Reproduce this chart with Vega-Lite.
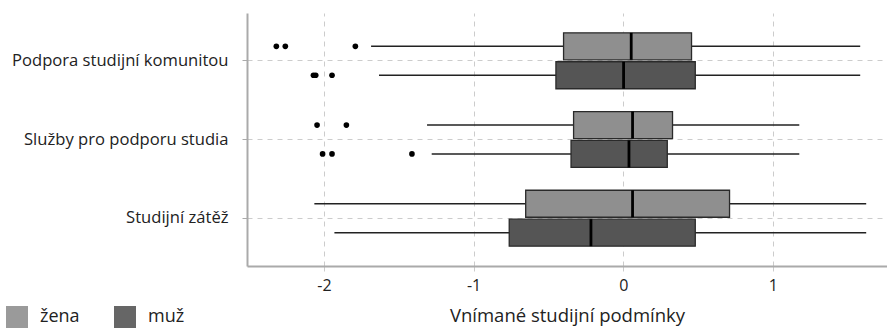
{
  "$schema": "https://vega.github.io/schema/vega-lite/v6.json",
  "width": 640,
  "height": 253,
  "autosize": "none",
  "padding": {"left": 247, "top": 13, "right": 0, "bottom": 62},
  "background": "white",
  "config": {
    "font": "Open Sans",
    "view": {"stroke": null},
    "axis": {"labelColor": "#222", "titleColor": "#222", "titleFontWeight": "normal"}
  },
  "datasets": {
    "boxes": [
      {"cat": "Podpora studijní komunitou", "sex": "žena", "lo": -1.685, "q1": -0.399, "med": 0.053, "q3": 0.456, "hi": 1.583},
      {"cat": "Podpora studijní komunitou", "sex": "muž", "lo": -1.632, "q1": -0.45, "med": 0.002, "q3": 0.481, "hi": 1.583},
      {"cat": "Služby pro podporu studia", "sex": "žena", "lo": -1.311, "q1": -0.332, "med": 0.062, "q3": 0.329, "hi": 1.176},
      {"cat": "Služby pro podporu studia", "sex": "muž", "lo": -1.28, "q1": -0.349, "med": 0.038, "q3": 0.294, "hi": 1.176},
      {"cat": "Studijní zátěž", "sex": "žena", "lo": -2.064, "q1": -0.652, "med": 0.062, "q3": 0.71, "hi": 1.623},
      {"cat": "Studijní zátěž", "sex": "muž", "lo": -1.93, "q1": -0.762, "med": -0.216, "q3": 0.481, "hi": 1.623}
    ],
    "outliers": [
      {"cat": "Podpora studijní komunitou", "sex": "žena", "value": -2.318},
      {"cat": "Podpora studijní komunitou", "sex": "žena", "value": -2.258},
      {"cat": "Podpora studijní komunitou", "sex": "žena", "value": -1.79},
      {"cat": "Podpora studijní komunitou", "sex": "muž", "value": -2.07},
      {"cat": "Podpora studijní komunitou", "sex": "muž", "value": -2.055},
      {"cat": "Podpora studijní komunitou", "sex": "muž", "value": -1.946},
      {"cat": "Služby pro podporu studia", "sex": "žena", "value": -2.046},
      {"cat": "Služby pro podporu studia", "sex": "žena", "value": -1.85},
      {"cat": "Služby pro podporu studia", "sex": "muž", "value": -2.009},
      {"cat": "Služby pro podporu studia", "sex": "muž", "value": -1.946},
      {"cat": "Služby pro podporu studia", "sex": "muž", "value": -1.412}
    ]
  },
  "encoding": {
    "y": {
      "field": "cat", "type": "nominal",
      "scale": {"type": "band", "domain": ["Podpora studijní komunitou", "Služby pro podporu studia", "Studijní zátěž"], "paddingInner": 0.266, "paddingOuter": 0.24},
      "axis": {"title": null, "grid": true, "bandPosition": 0.5, "gridDash": [5, 5], "gridColor": "#cccccc", "gridWidth": 1, "domainColor": "#aaaaaa", "domainWidth": 2, "tickColor": "#aaaaaa", "tickSize": 5, "labelFontSize": 16.6, "labelPadding": 14, "labelLimit": 0}
    },
    "yOffset": {
      "field": "sex", "type": "nominal",
      "scale": {"domain": ["žena", "muž"], "paddingInner": 0, "paddingOuter": 0}
    }
  },
  "layer": [
    {
      "data": {"name": "boxes"},
      "mark": {"type": "rule", "color": "#222222", "strokeWidth": 1.5},
      "encoding": {
        "x": {
          "field": "lo", "type": "quantitative",
          "scale": {"domain": [-2.514, 1.762], "nice": false, "zero": false},
          "axis": {"values": [-2, -1, 0, 1], "labelExpr": "datum.value + ''", "title": "Vnímané studijní podmínky", "grid": true, "gridDash": [5, 5], "gridColor": "#cccccc", "gridWidth": 1, "domainColor": "#aaaaaa", "domainWidth": 2, "tickColor": "#cccccc", "tickSize": 5, "labelFontSize": 16, "labelPadding": 6, "titleFontSize": 18.5, "titlePadding": 13}
        },
        "x2": {"field": "hi"}
      }
    },
    {
      "data": {"name": "boxes"},
      "mark": {"type": "bar", "stroke": "#2a2a2a", "strokeWidth": 1.3, "size": 27},
      "encoding": {
        "x": {"field": "q1", "type": "quantitative"},
        "x2": {"field": "q3"},
        "fill": {
          "field": "sex", "type": "nominal",
          "scale": {"domain": ["žena", "muž"], "range": ["#8f8f8f", "#555555"]},
          "legend": {"title": null, "orient": "none", "legendX": -241, "legendY": 293, "direction": "horizontal", "symbolType": "square", "symbolSize": 484, "symbolStrokeWidth": 0, "symbolOpacity": 0.9, "labelFontSize": 18, "labelOffset": 12, "columnPadding": 34, "labelColor": "#222"}
        }
      }
    },
    {
      "data": {"name": "boxes"},
      "mark": {"type": "tick", "color": "#000000", "thickness": 2.8, "size": 27, "opacity": 1},
      "encoding": {
        "x": {"field": "med", "type": "quantitative"}
      }
    },
    {
      "data": {"name": "outliers"},
      "mark": {"type": "point", "filled": true, "color": "#000000", "size": 32, "opacity": 1},
      "encoding": {
        "x": {"field": "value", "type": "quantitative"}
      }
    }
  ]
}
